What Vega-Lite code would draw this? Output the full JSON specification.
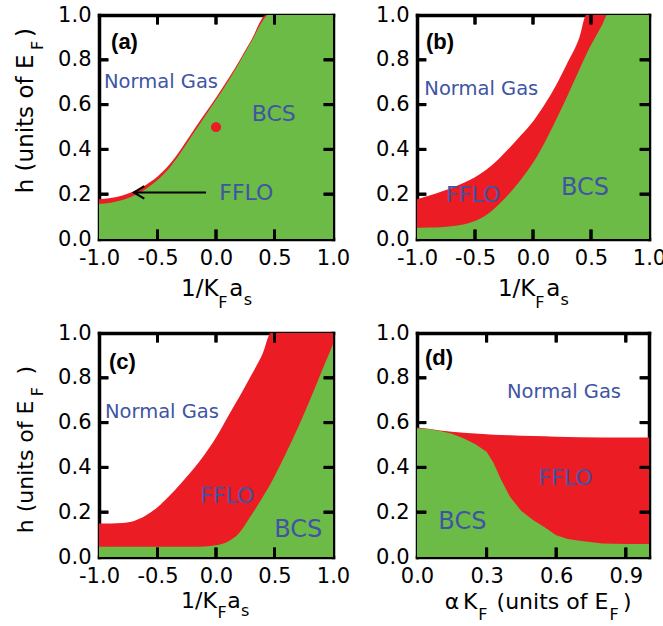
{
"$schema":"https://vega.github.io/schema/vega-lite/v6.json",
"padding":{"left":14,"top":4,"right":0,"bottom":0},
"background":"white",
"columns":2,
"spacing":{"row":94,"column":84},
"bounds":"flush",
"config":{
 "view":{"stroke":null},
 "axis":{"domain":true,"domainColor":"black","domainWidth":3.5,"domainCap":"square","grid":false,"ticks":false,"labelFont":"DejaVu Sans","labelFontSize":21,"labelColor":"black","labelPadding":8,"labelFlush":false,"labelOverlap":false,"zindex":1}
},
"datasets":{
 "a":[
  {"x":-1.0,"upper":0.178,"lower":0.156},{"x":-0.9,"upper":0.183,"lower":0.162},{"x":-0.8,"upper":0.194,"lower":0.174},
  {"x":-0.7,"upper":0.213,"lower":0.194},{"x":-0.6,"upper":0.241,"lower":0.223},{"x":-0.5,"upper":0.279,"lower":0.263},
  {"x":-0.4,"upper":0.331,"lower":0.316},{"x":-0.3,"upper":0.401,"lower":0.387},{"x":-0.2,"upper":0.479,"lower":0.466},
  {"x":-0.1,"upper":0.556,"lower":0.544},{"x":0.0,"upper":0.631,"lower":0.620},{"x":0.1,"upper":0.711,"lower":0.701},
  {"x":0.2,"upper":0.796,"lower":0.788},{"x":0.3,"upper":0.886,"lower":0.879},{"x":0.43,"upper":1.0,"lower":0.995},
  {"x":0.44,"upper":1.0,"lower":1.0},{"x":1.0,"upper":1.0,"lower":1.0}
 ],
 "b":[
  {"x":-1.0,"upper":0.178,"lower":0.050},{"x":-0.9,"upper":0.193,"lower":0.051},{"x":-0.8,"upper":0.210,"lower":0.053},
  {"x":-0.7,"upper":0.228,"lower":0.057},{"x":-0.6,"upper":0.250,"lower":0.065},{"x":-0.5,"upper":0.276,"lower":0.080},
  {"x":-0.4,"upper":0.310,"lower":0.108},{"x":-0.3,"upper":0.355,"lower":0.152},{"x":-0.2,"upper":0.408,"lower":0.205},
  {"x":-0.1,"upper":0.465,"lower":0.268},{"x":0.0,"upper":0.525,"lower":0.340},{"x":0.1,"upper":0.600,"lower":0.430},
  {"x":0.2,"upper":0.688,"lower":0.533},{"x":0.3,"upper":0.790,"lower":0.643},{"x":0.4,"upper":0.900,"lower":0.757},
  {"x":0.46,"upper":1.0,"lower":0.825},{"x":0.5,"upper":1.0,"lower":0.866},{"x":0.6,"upper":1.0,"lower":0.960},
  {"x":0.64,"upper":1.0,"lower":1.0},{"x":1.0,"upper":1.0,"lower":1.0}
 ],
 "c":[
  {"x":-1.0,"upper":0.150,"lower":0.046},{"x":-0.9,"upper":0.150,"lower":0.046},{"x":-0.8,"upper":0.152,"lower":0.046},
  {"x":-0.7,"upper":0.161,"lower":0.046},{"x":-0.6,"upper":0.185,"lower":0.046},{"x":-0.5,"upper":0.222,"lower":0.046},
  {"x":-0.4,"upper":0.272,"lower":0.046},{"x":-0.3,"upper":0.328,"lower":0.046},{"x":-0.2,"upper":0.388,"lower":0.046},
  {"x":-0.1,"upper":0.455,"lower":0.047},{"x":0.0,"upper":0.533,"lower":0.052},{"x":0.1,"upper":0.625,"lower":0.068},
  {"x":0.2,"upper":0.715,"lower":0.108},{"x":0.3,"upper":0.810,"lower":0.185},{"x":0.4,"upper":0.910,"lower":0.268},
  {"x":0.47,"upper":1.0,"lower":0.330},{"x":0.5,"upper":1.0,"lower":0.360},{"x":0.6,"upper":1.0,"lower":0.465},
  {"x":0.7,"upper":1.0,"lower":0.577},{"x":0.8,"upper":1.0,"lower":0.697},{"x":0.9,"upper":1.0,"lower":0.825},
  {"x":1.0,"upper":1.0,"lower":0.950}
 ],
 "d":[
  {"x":0.0,"upper":0.578,"lower":0.575},{"x":0.05,"upper":0.572,"lower":0.571},{"x":0.1,"upper":0.565,"lower":0.563},
  {"x":0.15,"upper":0.559,"lower":0.550},{"x":0.2,"upper":0.555,"lower":0.530},{"x":0.25,"upper":0.551,"lower":0.505},
  {"x":0.3,"upper":0.548,"lower":0.470},{"x":0.33,"upper":0.546,"lower":0.420},{"x":0.36,"upper":0.545,"lower":0.350},
  {"x":0.4,"upper":0.543,"lower":0.270},{"x":0.45,"upper":0.541,"lower":0.205},{"x":0.5,"upper":0.540,"lower":0.165},
  {"x":0.55,"upper":0.539,"lower":0.133},{"x":0.6,"upper":0.537,"lower":0.097},{"x":0.65,"upper":0.536,"lower":0.080},
  {"x":0.7,"upper":0.535,"lower":0.072},{"x":0.8,"upper":0.534,"lower":0.060},{"x":0.9,"upper":0.533,"lower":0.058},
  {"x":1.0,"upper":0.533,"lower":0.058}
 ],
 "tk1":[
  {"id":"b1","o":1,"x":-0.5,"y":0},{"id":"b1","o":2,"x":-0.5,"y":0.042},
  {"id":"b2","o":1,"x":0,"y":0},{"id":"b2","o":2,"x":0,"y":0.042},
  {"id":"b3","o":1,"x":0.5,"y":0},{"id":"b3","o":2,"x":0.5,"y":0.042},
  {"id":"t1","o":1,"x":-0.5,"y":1},{"id":"t1","o":2,"x":-0.5,"y":0.958},
  {"id":"t2","o":1,"x":0,"y":1},{"id":"t2","o":2,"x":0,"y":0.958},
  {"id":"t3","o":1,"x":0.5,"y":1},{"id":"t3","o":2,"x":0.5,"y":0.958},
  {"id":"l1","o":1,"x":-1,"y":0.2},{"id":"l1","o":2,"x":-0.92,"y":0.2},
  {"id":"l2","o":1,"x":-1,"y":0.4},{"id":"l2","o":2,"x":-0.92,"y":0.4},
  {"id":"l3","o":1,"x":-1,"y":0.6},{"id":"l3","o":2,"x":-0.92,"y":0.6},
  {"id":"l4","o":1,"x":-1,"y":0.8},{"id":"l4","o":2,"x":-0.92,"y":0.8},
  {"id":"r1","o":1,"x":1,"y":0.2},{"id":"r1","o":2,"x":0.92,"y":0.2},
  {"id":"r2","o":1,"x":1,"y":0.4},{"id":"r2","o":2,"x":0.92,"y":0.4},
  {"id":"r3","o":1,"x":1,"y":0.6},{"id":"r3","o":2,"x":0.92,"y":0.6},
  {"id":"r4","o":1,"x":1,"y":0.8},{"id":"r4","o":2,"x":0.92,"y":0.8}
 ],
 "tk2":[
  {"id":"b1","o":1,"x":0.3,"y":0},{"id":"b1","o":2,"x":0.3,"y":0.042},
  {"id":"b2","o":1,"x":0.6,"y":0},{"id":"b2","o":2,"x":0.6,"y":0.042},
  {"id":"b3","o":1,"x":0.9,"y":0},{"id":"b3","o":2,"x":0.9,"y":0.042},
  {"id":"t1","o":1,"x":0.3,"y":1},{"id":"t1","o":2,"x":0.3,"y":0.958},
  {"id":"t2","o":1,"x":0.6,"y":1},{"id":"t2","o":2,"x":0.6,"y":0.958},
  {"id":"t3","o":1,"x":0.9,"y":1},{"id":"t3","o":2,"x":0.9,"y":0.958},
  {"id":"l1","o":1,"x":0,"y":0.2},{"id":"l1","o":2,"x":0.04,"y":0.2},
  {"id":"l2","o":1,"x":0,"y":0.4},{"id":"l2","o":2,"x":0.04,"y":0.4},
  {"id":"l3","o":1,"x":0,"y":0.6},{"id":"l3","o":2,"x":0.04,"y":0.6},
  {"id":"l4","o":1,"x":0,"y":0.8},{"id":"l4","o":2,"x":0.04,"y":0.8},
  {"id":"r1","o":1,"x":1,"y":0.2},{"id":"r1","o":2,"x":0.96,"y":0.2},
  {"id":"r2","o":1,"x":1,"y":0.4},{"id":"r2","o":2,"x":0.96,"y":0.4},
  {"id":"r3","o":1,"x":1,"y":0.6},{"id":"r3","o":2,"x":0.96,"y":0.6},
  {"id":"r4","o":1,"x":1,"y":0.8},{"id":"r4","o":2,"x":0.96,"y":0.8}
 ],
 "tr1":[
  {"x":-0.5,"x2":-0.5,"y":0,"y2":0.042},{"x":0,"x2":0,"y":0,"y2":0.042},{"x":0.5,"x2":0.5,"y":0,"y2":0.042},
  {"x":-0.5,"x2":-0.5,"y":0.958,"y2":1},{"x":0,"x2":0,"y":0.958,"y2":1},{"x":0.5,"x2":0.5,"y":0.958,"y2":1},
  {"x":-1,"x2":-0.92,"y":0.2,"y2":0.2},{"x":-1,"x2":-0.92,"y":0.4,"y2":0.4},{"x":-1,"x2":-0.92,"y":0.6,"y2":0.6},{"x":-1,"x2":-0.92,"y":0.8,"y2":0.8},
  {"x":0.92,"x2":1,"y":0.2,"y2":0.2},{"x":0.92,"x2":1,"y":0.4,"y2":0.4},{"x":0.92,"x2":1,"y":0.6,"y2":0.6},{"x":0.92,"x2":1,"y":0.8,"y2":0.8}
 ],
 "tr2":[
  {"x":0.3,"x2":0.3,"y":0,"y2":0.042},{"x":0.6,"x2":0.6,"y":0,"y2":0.042},{"x":0.9,"x2":0.9,"y":0,"y2":0.042},
  {"x":0.3,"x2":0.3,"y":0.958,"y2":1},{"x":0.6,"x2":0.6,"y":0.958,"y2":1},{"x":0.9,"x2":0.9,"y":0.958,"y2":1},
  {"x":0,"x2":0.04,"y":0.2,"y2":0.2},{"x":0,"x2":0.04,"y":0.4,"y2":0.4},{"x":0,"x2":0.04,"y":0.6,"y2":0.6},{"x":0,"x2":0.04,"y":0.8,"y2":0.8},
  {"x":0.96,"x2":1,"y":0.2,"y2":0.2},{"x":0.96,"x2":1,"y":0.4,"y2":0.4},{"x":0.96,"x2":1,"y":0.6,"y2":0.6},{"x":0.96,"x2":1,"y":0.8,"y2":0.8}
 ],
 "arrowA":[
  {"seg":"shaft","o":1,"x":-0.703,"y":0.208},{"seg":"shaft","o":2,"x":-0.085,"y":0.208},
  {"seg":"head","o":1,"x":-0.613,"y":0.236},{"seg":"head","o":2,"x":-0.703,"y":0.208},{"seg":"head","o":3,"x":-0.613,"y":0.180}
 ],
 "dotA":[{"x":0.0,"y":0.5}],
 "txt":[
  {"panel":"a","role":"tag","label":"(a)","x":-0.897,"y":0.879},
  {"panel":"a","role":"name","label":"Normal Gas","x":-0.957,"y":0.70},
  {"panel":"a","role":"phase","label":"BCS","x":0.305,"y":0.557},
  {"panel":"a","role":"phase","label":"FFLO","x":0.028,"y":0.207},
  {"panel":"a","role":"xt","label":"1/K","x":-0.299,"y":-0.254},
  {"panel":"a","role":"xs","label":"F","x":0.02,"y":-0.31},
  {"panel":"a","role":"xt","label":"a","x":0.113,"y":-0.254},
  {"panel":"a","role":"xs","label":"s","x":0.237,"y":-0.295},
  {"panel":"a","role":"yt","label":"h (units of E","x":-1.564,"y":0.204},
  {"panel":"a","role":"ys","label":"F","x":-1.479,"y":0.844},
  {"panel":"a","role":"yt","label":")","x":-1.564,"y":0.902},
  {"panel":"b","role":"tag","label":"(b)","x":-0.922,"y":0.879},
  {"panel":"b","role":"name","label":"Normal Gas","x":-0.937,"y":0.668},
  {"panel":"b","role":"phase","label":"FFLO","x":-0.749,"y":0.196},
  {"panel":"b","role":"phaseL","label":"BCS","x":0.241,"y":0.226},
  {"panel":"b","role":"xt","label":"1/K","x":-0.302,"y":-0.254},
  {"panel":"b","role":"xs","label":"F","x":0.02,"y":-0.31},
  {"panel":"b","role":"xt","label":"a","x":0.115,"y":-0.254},
  {"panel":"b","role":"xs","label":"s","x":0.238,"y":-0.295},
  {"panel":"c","role":"tag","label":"(c)","x":-0.915,"y":0.871},
  {"panel":"c","role":"name","label":"Normal Gas","x":-0.949,"y":0.649},
  {"panel":"c","role":"phase","label":"FFLO","x":-0.134,"y":0.274},
  {"panel":"c","role":"phaseL","label":"BCS","x":0.498,"y":0.12},
  {"panel":"c","role":"xt","label":"1/K","x":-0.299,"y":-0.228},
  {"panel":"c","role":"xs","label":"F","x":0.012,"y":-0.272},
  {"panel":"c","role":"xt","label":"a","x":0.097,"y":-0.228},
  {"panel":"c","role":"xs","label":"s","x":0.213,"y":-0.262},
  {"panel":"c","role":"yt","label":"h (units of E","x":-1.567,"y":0.106},
  {"panel":"c","role":"ys","label":"F","x":-1.479,"y":0.718},
  {"panel":"c","role":"yt","label":")","x":-1.567,"y":0.815},
  {"panel":"d","role":"tag","label":"(d)","x":0.0345,"y":0.888},
  {"panel":"d","role":"name","label":"Normal Gas","x":0.388,"y":0.738},
  {"panel":"d","role":"phase","label":"FFLO","x":0.524,"y":0.351},
  {"panel":"d","role":"phaseL","label":"BCS","x":0.092,"y":0.158},
  {"panel":"d","role":"xt","label":"α","x":0.12,"y":-0.232},
  {"panel":"d","role":"xt","label":"K","x":0.198,"y":-0.232},
  {"panel":"d","role":"xs","label":"F","x":0.264,"y":-0.28},
  {"panel":"d","role":"xt","label":"(units of E","x":0.343,"y":-0.232},
  {"panel":"d","role":"xs","label":"F","x":0.83,"y":-0.28},
  {"panel":"d","role":"xt","label":")","x":0.888,"y":-0.232}
 ]
},
"concat":[
 {"width":234,"height":224,
  "resolve":{"axis":{"x":"independent","y":"independent"}},
  "layer":[
   {"data":{"name":"a"},"mark":{"type":"area","color":"#ec1c24","interpolate":"monotone"},
    "encoding":{"x":{"field":"x","type":"quantitative","scale":{"domain":[-1,1]},"axis":{"orient":"bottom","values":[-1,-0.5,0,0.5,1],"format":".1f","labelExpr":"replace(datum.label,'\u2212','-')","title":null}},
                "y":{"field":"upper","type":"quantitative","scale":{"domain":[0,1]},"axis":{"orient":"left","values":[0,0.2,0.4,0.6,0.8,1],"format":".1f","title":null}}}},
   {"data":{"name":"a"},"mark":{"type":"area","color":"#6cbb47","interpolate":"monotone"},
    "encoding":{"x":{"field":"x","type":"quantitative","scale":{"domain":[-1,1]},"axis":{"orient":"top","labels":false,"title":null}},
                "y":{"field":"lower","type":"quantitative","scale":{"domain":[0,1]},"axis":{"orient":"right","labels":false,"title":null}}}},
   {"data":{"name":"arrowA"},"mark":{"type":"line","color":"black","strokeWidth":2},
    "encoding":{"x":{"field":"x","type":"quantitative","scale":{"domain":[-1,1]},"axis":null},"y":{"field":"y","type":"quantitative","scale":{"domain":[0,1]},"axis":null},"detail":{"field":"seg"},"order":{"field":"o"}}},
   {"data":{"name":"dotA"},"mark":{"type":"point","filled":true,"color":"#ec1c24","size":105,"opacity":1},
    "encoding":{"x":{"field":"x","type":"quantitative","scale":{"domain":[-1,1]},"axis":null},"y":{"field":"y","type":"quantitative","scale":{"domain":[0,1]},"axis":null}}},
   {"data":{"name":"txt"},"transform":[{"filter":"datum.panel=='a' && datum.role=='name'"}],"mark":{"type":"text","font":"DejaVu Sans","fontSize":19.5,"color":"#4054a4","align":"left","baseline":"middle"},
    "encoding":{"x":{"field":"x","type":"quantitative","scale":{"domain":[-1,1]},"axis":null},"y":{"field":"y","type":"quantitative","scale":{"domain":[0,1]},"axis":null},"text":{"field":"label"}}},
   {"data":{"name":"txt"},"transform":[{"filter":"datum.panel=='a' && datum.role=='phase'"}],"mark":{"type":"text","font":"DejaVu Sans","fontSize":22,"color":"#4054a4","align":"left","baseline":"middle"},
    "encoding":{"x":{"field":"x","type":"quantitative","scale":{"domain":[-1,1]},"axis":null},"y":{"field":"y","type":"quantitative","scale":{"domain":[0,1]},"axis":null},"text":{"field":"label"}}},
   {"data":{"name":"txt"},"transform":[{"filter":"datum.panel=='a' && datum.role=='tag'"}],"mark":{"type":"text","font":"Liberation Sans","fontWeight":"bold","fontSize":22,"color":"black","align":"left","baseline":"middle"},
    "encoding":{"x":{"field":"x","type":"quantitative","scale":{"domain":[-1,1]},"axis":null},"y":{"field":"y","type":"quantitative","scale":{"domain":[0,1]},"axis":null},"text":{"field":"label"}}},
   {"data":{"name":"txt"},"transform":[{"filter":"datum.panel=='a' && datum.role=='xt'"}],"mark":{"type":"text","font":"DejaVu Sans","fontSize":23,"color":"black","align":"left","baseline":"alphabetic"},
    "encoding":{"x":{"field":"x","type":"quantitative","scale":{"domain":[-1,1]},"axis":null},"y":{"field":"y","type":"quantitative","scale":{"domain":[0,1]},"axis":null},"text":{"field":"label"}}},
   {"data":{"name":"txt"},"transform":[{"filter":"datum.panel=='a' && datum.role=='xs'"}],"mark":{"type":"text","font":"DejaVu Sans","fontSize":16,"color":"black","align":"left","baseline":"alphabetic"},
    "encoding":{"x":{"field":"x","type":"quantitative","scale":{"domain":[-1,1]},"axis":null},"y":{"field":"y","type":"quantitative","scale":{"domain":[0,1]},"axis":null},"text":{"field":"label"}}},
   {"data":{"name":"txt"},"transform":[{"filter":"datum.panel=='a' && datum.role=='yt'"}],"mark":{"type":"text","font":"DejaVu Sans","fontSize":23,"color":"black","align":"left","baseline":"alphabetic","angle":270},
    "encoding":{"x":{"field":"x","type":"quantitative","scale":{"domain":[-1,1]},"axis":null},"y":{"field":"y","type":"quantitative","scale":{"domain":[0,1]},"axis":null},"text":{"field":"label"}}},
   {"data":{"name":"txt"},"transform":[{"filter":"datum.panel=='a' && datum.role=='ys'"}],"mark":{"type":"text","font":"DejaVu Sans","fontSize":16,"color":"black","align":"left","baseline":"alphabetic","angle":270},
    "encoding":{"x":{"field":"x","type":"quantitative","scale":{"domain":[-1,1]},"axis":null},"y":{"field":"y","type":"quantitative","scale":{"domain":[0,1]},"axis":null},"text":{"field":"label"}}},
   {"data":{"name":"tk1"},"mark":{"type":"line","color":"black","strokeWidth":3},
    "encoding":{"x":{"field":"x","type":"quantitative","scale":{"domain":[-1,1]},"axis":null},"y":{"field":"y","type":"quantitative","scale":{"domain":[0,1]},"axis":null},"detail":{"field":"id"},"order":{"field":"o"}}},
   {"data":{"name":"tr1"},"mark":{"type":"rule","color":"black","strokeWidth":3},
    "encoding":{"x":{"field":"x","type":"quantitative","scale":{"domain":[-1,1]},"axis":null},"x2":{"field":"x2"},"y":{"field":"y","type":"quantitative","scale":{"domain":[0,1]},"axis":null},"y2":{"field":"y2"}}}
  ]},
 {"width":232,"height":224,
  "resolve":{"axis":{"x":"independent","y":"independent"}},
  "layer":[
   {"data":{"name":"b"},"mark":{"type":"area","color":"#ec1c24","interpolate":"monotone"},
    "encoding":{"x":{"field":"x","type":"quantitative","scale":{"domain":[-1,1]},"axis":{"orient":"bottom","values":[-1,-0.5,0,0.5,1],"format":".1f","labelExpr":"replace(datum.label,'\u2212','-')","title":null}},
                "y":{"field":"upper","type":"quantitative","scale":{"domain":[0,1]},"axis":{"orient":"left","values":[0,0.2,0.4,0.6,0.8,1],"format":".1f","title":null}}}},
   {"data":{"name":"b"},"mark":{"type":"area","color":"#6cbb47","interpolate":"monotone"},
    "encoding":{"x":{"field":"x","type":"quantitative","scale":{"domain":[-1,1]},"axis":{"orient":"top","labels":false,"title":null}},
                "y":{"field":"lower","type":"quantitative","scale":{"domain":[0,1]},"axis":{"orient":"right","labels":false,"title":null}}}},
   {"data":{"name":"txt"},"transform":[{"filter":"datum.panel=='b' && datum.role=='name'"}],"mark":{"type":"text","font":"DejaVu Sans","fontSize":19.5,"color":"#4054a4","align":"left","baseline":"middle"},
    "encoding":{"x":{"field":"x","type":"quantitative","scale":{"domain":[-1,1]},"axis":null},"y":{"field":"y","type":"quantitative","scale":{"domain":[0,1]},"axis":null},"text":{"field":"label"}}},
   {"data":{"name":"txt"},"transform":[{"filter":"datum.panel=='b' && datum.role=='phase'"}],"mark":{"type":"text","font":"DejaVu Sans","fontSize":22,"color":"#4054a4","align":"left","baseline":"middle"},
    "encoding":{"x":{"field":"x","type":"quantitative","scale":{"domain":[-1,1]},"axis":null},"y":{"field":"y","type":"quantitative","scale":{"domain":[0,1]},"axis":null},"text":{"field":"label"}}},
   {"data":{"name":"txt"},"transform":[{"filter":"datum.panel=='b' && datum.role=='phaseL'"}],"mark":{"type":"text","font":"DejaVu Sans","fontSize":24,"color":"#4054a4","align":"left","baseline":"middle"},
    "encoding":{"x":{"field":"x","type":"quantitative","scale":{"domain":[-1,1]},"axis":null},"y":{"field":"y","type":"quantitative","scale":{"domain":[0,1]},"axis":null},"text":{"field":"label"}}},
   {"data":{"name":"txt"},"transform":[{"filter":"datum.panel=='b' && datum.role=='tag'"}],"mark":{"type":"text","font":"Liberation Sans","fontWeight":"bold","fontSize":22,"color":"black","align":"left","baseline":"middle"},
    "encoding":{"x":{"field":"x","type":"quantitative","scale":{"domain":[-1,1]},"axis":null},"y":{"field":"y","type":"quantitative","scale":{"domain":[0,1]},"axis":null},"text":{"field":"label"}}},
   {"data":{"name":"txt"},"transform":[{"filter":"datum.panel=='b' && datum.role=='xt'"}],"mark":{"type":"text","font":"DejaVu Sans","fontSize":23,"color":"black","align":"left","baseline":"alphabetic"},
    "encoding":{"x":{"field":"x","type":"quantitative","scale":{"domain":[-1,1]},"axis":null},"y":{"field":"y","type":"quantitative","scale":{"domain":[0,1]},"axis":null},"text":{"field":"label"}}},
   {"data":{"name":"txt"},"transform":[{"filter":"datum.panel=='b' && datum.role=='xs'"}],"mark":{"type":"text","font":"DejaVu Sans","fontSize":16,"color":"black","align":"left","baseline":"alphabetic"},
    "encoding":{"x":{"field":"x","type":"quantitative","scale":{"domain":[-1,1]},"axis":null},"y":{"field":"y","type":"quantitative","scale":{"domain":[0,1]},"axis":null},"text":{"field":"label"}}},
   {"data":{"name":"tk1"},"mark":{"type":"line","color":"black","strokeWidth":3},
    "encoding":{"x":{"field":"x","type":"quantitative","scale":{"domain":[-1,1]},"axis":null},"y":{"field":"y","type":"quantitative","scale":{"domain":[0,1]},"axis":null},"detail":{"field":"id"},"order":{"field":"o"}}},
   {"data":{"name":"tr1"},"mark":{"type":"rule","color":"black","strokeWidth":3},
    "encoding":{"x":{"field":"x","type":"quantitative","scale":{"domain":[-1,1]},"axis":null},"x2":{"field":"x2"},"y":{"field":"y","type":"quantitative","scale":{"domain":[0,1]},"axis":null},"y2":{"field":"y2"}}}
  ]},
 {"width":234,"height":224,
  "resolve":{"axis":{"x":"independent","y":"independent"}},
  "layer":[
   {"data":{"name":"c"},"mark":{"type":"area","color":"#ec1c24","interpolate":"monotone"},
    "encoding":{"x":{"field":"x","type":"quantitative","scale":{"domain":[-1,1]},"axis":{"orient":"bottom","values":[-1,-0.5,0,0.5,1],"format":".1f","labelExpr":"replace(datum.label,'\u2212','-')","title":null}},
                "y":{"field":"upper","type":"quantitative","scale":{"domain":[0,1]},"axis":{"orient":"left","values":[0,0.2,0.4,0.6,0.8,1],"format":".1f","title":null}}}},
   {"data":{"name":"c"},"mark":{"type":"area","color":"#6cbb47","interpolate":"monotone"},
    "encoding":{"x":{"field":"x","type":"quantitative","scale":{"domain":[-1,1]},"axis":{"orient":"top","labels":false,"title":null}},
                "y":{"field":"lower","type":"quantitative","scale":{"domain":[0,1]},"axis":{"orient":"right","labels":false,"title":null}}}},
   {"data":{"name":"txt"},"transform":[{"filter":"datum.panel=='c' && datum.role=='name'"}],"mark":{"type":"text","font":"DejaVu Sans","fontSize":19.5,"color":"#4054a4","align":"left","baseline":"middle"},
    "encoding":{"x":{"field":"x","type":"quantitative","scale":{"domain":[-1,1]},"axis":null},"y":{"field":"y","type":"quantitative","scale":{"domain":[0,1]},"axis":null},"text":{"field":"label"}}},
   {"data":{"name":"txt"},"transform":[{"filter":"datum.panel=='c' && datum.role=='phase'"}],"mark":{"type":"text","font":"DejaVu Sans","fontSize":22,"color":"#4054a4","align":"left","baseline":"middle"},
    "encoding":{"x":{"field":"x","type":"quantitative","scale":{"domain":[-1,1]},"axis":null},"y":{"field":"y","type":"quantitative","scale":{"domain":[0,1]},"axis":null},"text":{"field":"label"}}},
   {"data":{"name":"txt"},"transform":[{"filter":"datum.panel=='c' && datum.role=='phaseL'"}],"mark":{"type":"text","font":"DejaVu Sans","fontSize":24,"color":"#4054a4","align":"left","baseline":"middle"},
    "encoding":{"x":{"field":"x","type":"quantitative","scale":{"domain":[-1,1]},"axis":null},"y":{"field":"y","type":"quantitative","scale":{"domain":[0,1]},"axis":null},"text":{"field":"label"}}},
   {"data":{"name":"txt"},"transform":[{"filter":"datum.panel=='c' && datum.role=='tag'"}],"mark":{"type":"text","font":"Liberation Sans","fontWeight":"bold","fontSize":22,"color":"black","align":"left","baseline":"middle"},
    "encoding":{"x":{"field":"x","type":"quantitative","scale":{"domain":[-1,1]},"axis":null},"y":{"field":"y","type":"quantitative","scale":{"domain":[0,1]},"axis":null},"text":{"field":"label"}}},
   {"data":{"name":"txt"},"transform":[{"filter":"datum.panel=='c' && datum.role=='xt'"}],"mark":{"type":"text","font":"DejaVu Sans","fontSize":22,"color":"black","align":"left","baseline":"alphabetic"},
    "encoding":{"x":{"field":"x","type":"quantitative","scale":{"domain":[-1,1]},"axis":null},"y":{"field":"y","type":"quantitative","scale":{"domain":[0,1]},"axis":null},"text":{"field":"label"}}},
   {"data":{"name":"txt"},"transform":[{"filter":"datum.panel=='c' && datum.role=='xs'"}],"mark":{"type":"text","font":"DejaVu Sans","fontSize":16,"color":"black","align":"left","baseline":"alphabetic"},
    "encoding":{"x":{"field":"x","type":"quantitative","scale":{"domain":[-1,1]},"axis":null},"y":{"field":"y","type":"quantitative","scale":{"domain":[0,1]},"axis":null},"text":{"field":"label"}}},
   {"data":{"name":"txt"},"transform":[{"filter":"datum.panel=='c' && datum.role=='yt'"}],"mark":{"type":"text","font":"DejaVu Sans","fontSize":22,"color":"black","align":"left","baseline":"alphabetic","angle":270},
    "encoding":{"x":{"field":"x","type":"quantitative","scale":{"domain":[-1,1]},"axis":null},"y":{"field":"y","type":"quantitative","scale":{"domain":[0,1]},"axis":null},"text":{"field":"label"}}},
   {"data":{"name":"txt"},"transform":[{"filter":"datum.panel=='c' && datum.role=='ys'"}],"mark":{"type":"text","font":"DejaVu Sans","fontSize":16,"color":"black","align":"left","baseline":"alphabetic","angle":270},
    "encoding":{"x":{"field":"x","type":"quantitative","scale":{"domain":[-1,1]},"axis":null},"y":{"field":"y","type":"quantitative","scale":{"domain":[0,1]},"axis":null},"text":{"field":"label"}}},
   {"data":{"name":"tk1"},"mark":{"type":"line","color":"black","strokeWidth":3},
    "encoding":{"x":{"field":"x","type":"quantitative","scale":{"domain":[-1,1]},"axis":null},"y":{"field":"y","type":"quantitative","scale":{"domain":[0,1]},"axis":null},"detail":{"field":"id"},"order":{"field":"o"}}},
   {"data":{"name":"tr1"},"mark":{"type":"rule","color":"black","strokeWidth":3},
    "encoding":{"x":{"field":"x","type":"quantitative","scale":{"domain":[-1,1]},"axis":null},"x2":{"field":"x2"},"y":{"field":"y","type":"quantitative","scale":{"domain":[0,1]},"axis":null},"y2":{"field":"y2"}}}
  ]},
 {"width":232,"height":224,
  "resolve":{"axis":{"x":"independent","y":"independent"}},
  "layer":[
   {"data":{"name":"d"},"mark":{"type":"area","color":"#ec1c24","interpolate":"linear"},
    "encoding":{"x":{"field":"x","type":"quantitative","scale":{"domain":[0,1]},"axis":{"orient":"bottom","values":[0,0.3,0.6,0.9],"format":".1f","title":null}},
                "y":{"field":"upper","type":"quantitative","scale":{"domain":[0,1]},"axis":{"orient":"left","values":[0,0.2,0.4,0.6,0.8,1],"format":".1f","title":null}}}},
   {"data":{"name":"d"},"mark":{"type":"area","color":"#6cbb47","interpolate":"linear"},
    "encoding":{"x":{"field":"x","type":"quantitative","scale":{"domain":[0,1]},"axis":{"orient":"top","labels":false,"title":null}},
                "y":{"field":"lower","type":"quantitative","scale":{"domain":[0,1]},"axis":{"orient":"right","labels":false,"title":null}}}},
   {"data":{"name":"txt"},"transform":[{"filter":"datum.panel=='d' && datum.role=='name'"}],"mark":{"type":"text","font":"DejaVu Sans","fontSize":19.5,"color":"#4054a4","align":"left","baseline":"middle"},
    "encoding":{"x":{"field":"x","type":"quantitative","scale":{"domain":[0,1]},"axis":null},"y":{"field":"y","type":"quantitative","scale":{"domain":[0,1]},"axis":null},"text":{"field":"label"}}},
   {"data":{"name":"txt"},"transform":[{"filter":"datum.panel=='d' && datum.role=='phase'"}],"mark":{"type":"text","font":"DejaVu Sans","fontSize":22,"color":"#4054a4","align":"left","baseline":"middle"},
    "encoding":{"x":{"field":"x","type":"quantitative","scale":{"domain":[0,1]},"axis":null},"y":{"field":"y","type":"quantitative","scale":{"domain":[0,1]},"axis":null},"text":{"field":"label"}}},
   {"data":{"name":"txt"},"transform":[{"filter":"datum.panel=='d' && datum.role=='phaseL'"}],"mark":{"type":"text","font":"DejaVu Sans","fontSize":24,"color":"#4054a4","align":"left","baseline":"middle"},
    "encoding":{"x":{"field":"x","type":"quantitative","scale":{"domain":[0,1]},"axis":null},"y":{"field":"y","type":"quantitative","scale":{"domain":[0,1]},"axis":null},"text":{"field":"label"}}},
   {"data":{"name":"txt"},"transform":[{"filter":"datum.panel=='d' && datum.role=='tag'"}],"mark":{"type":"text","font":"Liberation Sans","fontWeight":"bold","fontSize":22,"color":"black","align":"left","baseline":"middle"},
    "encoding":{"x":{"field":"x","type":"quantitative","scale":{"domain":[0,1]},"axis":null},"y":{"field":"y","type":"quantitative","scale":{"domain":[0,1]},"axis":null},"text":{"field":"label"}}},
   {"data":{"name":"txt"},"transform":[{"filter":"datum.panel=='d' && datum.role=='xt'"}],"mark":{"type":"text","font":"DejaVu Sans","fontSize":22,"color":"black","align":"left","baseline":"alphabetic"},
    "encoding":{"x":{"field":"x","type":"quantitative","scale":{"domain":[0,1]},"axis":null},"y":{"field":"y","type":"quantitative","scale":{"domain":[0,1]},"axis":null},"text":{"field":"label"}}},
   {"data":{"name":"txt"},"transform":[{"filter":"datum.panel=='d' && datum.role=='xs'"}],"mark":{"type":"text","font":"DejaVu Sans","fontSize":16,"color":"black","align":"left","baseline":"alphabetic"},
    "encoding":{"x":{"field":"x","type":"quantitative","scale":{"domain":[0,1]},"axis":null},"y":{"field":"y","type":"quantitative","scale":{"domain":[0,1]},"axis":null},"text":{"field":"label"}}},
   {"data":{"name":"tk2"},"mark":{"type":"line","color":"black","strokeWidth":3},
    "encoding":{"x":{"field":"x","type":"quantitative","scale":{"domain":[0,1]},"axis":null},"y":{"field":"y","type":"quantitative","scale":{"domain":[0,1]},"axis":null},"detail":{"field":"id"},"order":{"field":"o"}}},
   {"data":{"name":"tr2"},"mark":{"type":"rule","color":"black","strokeWidth":3},
    "encoding":{"x":{"field":"x","type":"quantitative","scale":{"domain":[0,1]},"axis":null},"x2":{"field":"x2"},"y":{"field":"y","type":"quantitative","scale":{"domain":[0,1]},"axis":null},"y2":{"field":"y2"}}}
  ]}
]
}
